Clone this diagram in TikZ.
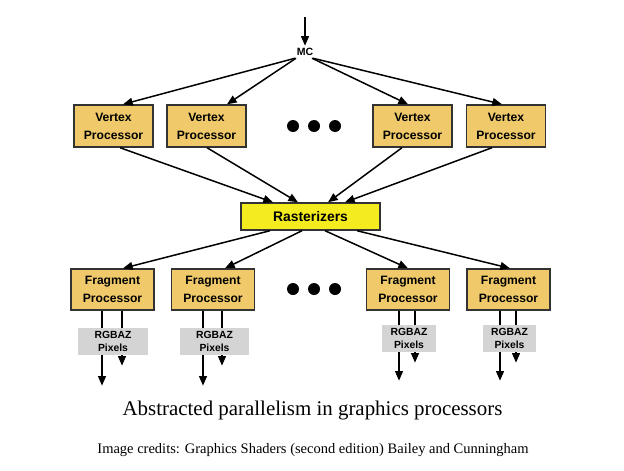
\documentclass[tikz,border=0pt]{standalone}
\usepackage{fontspec}
\setmainfont{Liberation Serif}
\setsansfont{Liberation Sans}
\usetikzlibrary{arrows.meta}
\definecolor{procfill}{RGB}{240,202,106}
\definecolor{rastfill}{RGB}{244,236,30}
\definecolor{pixfill}{RGB}{212,212,212}
\begin{document}
\begin{tikzpicture}[x=0.02cm, y=-0.02cm, font=\sffamily\bfseries, line width=0.85pt,
    >={Triangle[length=5.5pt, width=4.5pt]},
    procbox/.style={draw=black!80, fill=procfill, line width=0.8pt, minimum width=1.58cm, minimum height=0.84cm, align=center, inner sep=0pt, font=\sffamily\bfseries\fontsize{6.9}{10.2}\selectfont},
    rastbox/.style={draw=black!80, fill=rastfill, line width=0.8pt, minimum width=2.78cm, minimum height=0.54cm, inner sep=0pt, font=\sffamily\bfseries\fontsize{7.9}{9}\selectfont},
    pixbox/.style={fill=pixfill, minimum height=0.54cm, align=center, inner sep=0pt, font=\sffamily\bfseries\fontsize{5.9}{7}\selectfont},
    dot/.style={circle, fill=black, minimum size=0.24cm, inner sep=0pt}]
    \useasboundingbox (0,0) rectangle (624,470);

    % memory controller
    \node[font=\sffamily\bfseries\fontsize{6}{7}\selectfont, inner sep=1pt] (mc) at (305,52) {MC};
    \coordinate (in) at (305,17);
    \draw[->] (in) -- (mc.north);

    % vertex processors
    \node[procbox] (v1) at (113.5,126) {Vertex\\Processor};
    \node[procbox] (v2) at (206.5,126) {Vertex\\Processor};
    \node[procbox] (v3) at (412.5,126) {Vertex\\Processor};
    \node[procbox] (v4) at (506,126) {Vertex\\Processor};
    \node[dot] (vd1) at (293,126) {};
    \node[dot] (vd2) at (314,126) {};
    \node[dot] (vd3) at (335,126) {};

    \draw[->] ([xshift=-0.2cm]mc.south) -- ([xshift=0.19cm]v1.north);
    \draw[->] ([xshift=-0.18cm]mc.south) -- ([xshift=0.41cm]v2.north);
    \draw[->] ([xshift=0.14cm]mc.south) -- ([xshift=-0.09cm]v3.north);
    \draw[->] ([xshift=0.16cm]mc.south) -- ([xshift=-0.08cm]v4.north);

    % rasterizers
    \node[rastbox] (rast) at (310.5,216.5) {Rasterizers};

    \draw[->] ([xshift=0.13cm]v1.south) -- ([xshift=-0.75cm]rast.north);
    \draw[->] ([xshift=0.01cm]v2.south) -- ([xshift=-0.25cm]rast.north);
    \draw[->] ([xshift=-0.21cm]v3.south) -- ([xshift=0.35cm]rast.north);
    \draw[->] ([xshift=-0.28cm]v4.south) -- ([xshift=0.69cm]rast.north);

    % fragment processors
    \node[procbox, minimum width=1.66cm, minimum height=0.82cm] (f1) at (112.5,289.5) {Fragment\\Processor};
    \node[procbox, minimum width=1.66cm, minimum height=0.82cm] (f2) at (213,289.5) {Fragment\\Processor};
    \node[procbox, minimum width=1.66cm, minimum height=0.82cm] (f3) at (408,289.5) {Fragment\\Processor};
    \node[procbox, minimum width=1.66cm, minimum height=0.82cm] (f4) at (508.5,289.5) {Fragment\\Processor};
    \node[dot] (fd1) at (293,289) {};
    \node[dot] (fd2) at (314,289) {};
    \node[dot] (fd3) at (335,289) {};

    \draw[->] ([xshift=-0.81cm]rast.south) -- ([xshift=0.21cm]f1.north);
    \draw[->] ([xshift=-0.17cm]rast.south) -- ([xshift=0.24cm]f2.north);
    \draw[->] ([xshift=0.29cm]rast.south) -- (f3.north);
    \draw[->] ([xshift=0.93cm]rast.south) -- ([xshift=0.03cm]f4.north);

    % outputs
    \draw[->] ([xshift=-0.21cm]f1.south) -- ++(0,75);
    \draw[->] ([xshift=0.19cm]f1.south) -- ++(0,55);
    \draw[->] ([xshift=-0.2cm]f2.south) -- ++(0,75);
    \draw[->] ([xshift=0.18cm]f2.south) -- ++(0,55);
    \draw[->] ([xshift=-0.18cm]f3.south) -- ++(0,70);
    \draw[->] ([xshift=0.14cm]f3.south) -- ++(0,52);
    \draw[->] ([xshift=-0.17cm]f4.south) -- ++(0,70);
    \draw[->] ([xshift=0.15cm]f4.south) -- ++(0,52);

    \node[pixbox, minimum width=1.4cm] (p1) at (113,341.5) {RGBAZ\\Pixels};
    \node[pixbox, minimum width=1.38cm] (p2) at (214.5,341.5) {RGBAZ\\Pixels};
    \node[pixbox, minimum width=1.08cm] (p3) at (409,338.5) {RGBAZ\\Pixels};
    \node[pixbox, minimum width=1.06cm] (p4) at (509.5,338.5) {RGBAZ\\Pixels};

    % captions
    \node[font=\rmfamily\fontsize{11.9}{14}\selectfont] (title) at (312.5,410) {Abstracted parallelism in graphics processors};
    \node[font=\rmfamily\fontsize{8.25}{10}\selectfont] (credit) at (313,450) {Image credits: Graphics Shaders (second edition) Bailey and Cunningham};
\end{tikzpicture}
\end{document}
